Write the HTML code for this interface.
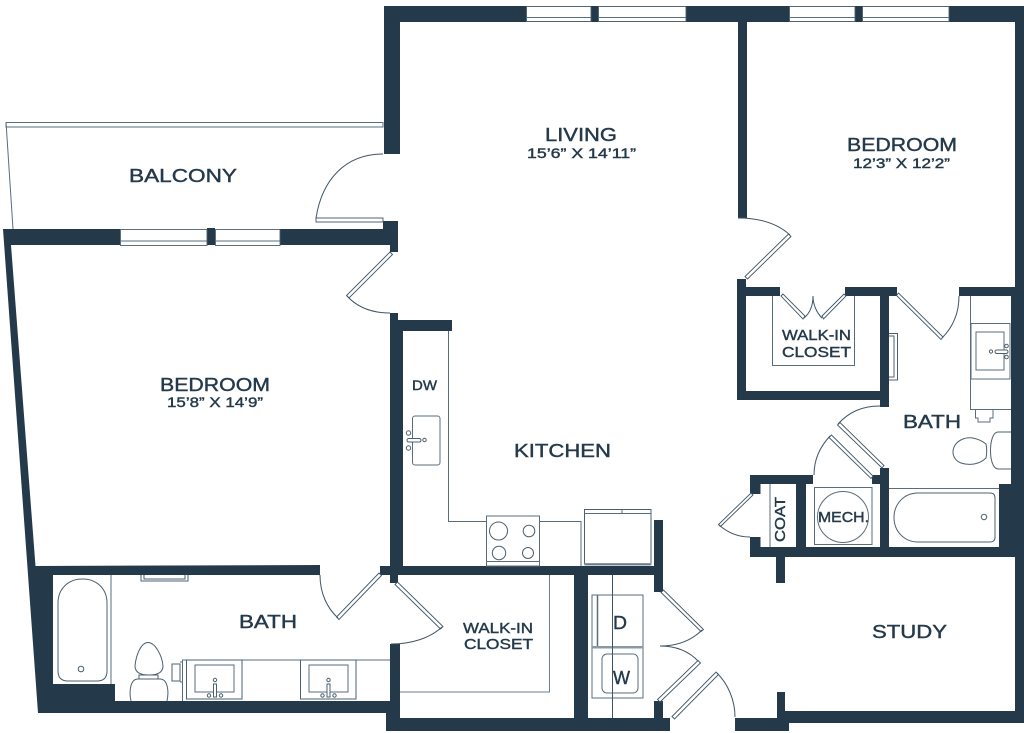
<!DOCTYPE html>
<html><head><meta charset="utf-8">
<style>
html,body{margin:0;padding:0;background:#fff;width:1024px;height:733px;overflow:hidden}
svg{display:block}
.w{fill:#243a4b;stroke:none}
.l{fill:none;stroke:#5a6d7c;stroke-width:1}
.d{fill:#fff;stroke:#3f5566;stroke-width:.9}
.a{fill:none;stroke:#3f5566;stroke-width:1}
.f{fill:#fff;stroke:#4c6070;stroke-width:1}
text{font-family:"Liberation Sans",sans-serif;fill:#243a4b;stroke:#243a4b;stroke-width:.4}
</style></head><body>
<svg width="1024" height="733" viewBox="0 0 1024 733" xmlns="http://www.w3.org/2000/svg">
<rect width="1024" height="733" fill="#fff"/>

<!-- balcony -->
<rect class="l" x="6" y="122.500" width="377" height="4.500"/>
<line class="l" x1="6" y1="122" x2="13" y2="229"/>

<!-- walls -->
<g class="w">
<rect x="384" y="6" width="640" height="16"/>
<rect x="384" y="6" width="16" height="148"/>
<rect x="1015" y="6" width="9" height="281"/>
<rect x="738" y="20" width="9" height="198"/>
<polygon points="3,229 120,229 120,245 11,245 35.500,566 320,565 320,575 53,575 53,684 115,684 115,701 390,701 390,644 400,644 400,718 670,718 670,731 386,731 386,713 38,713"/>
<rect x="207" y="228" width="8" height="17"/>
<rect x="280" y="229" width="110" height="16"/>
<rect x="383" y="221" width="15" height="24"/>
<rect x="390" y="245" width="8" height="7"/>
<rect x="390" y="313" width="8" height="18"/>
<rect x="398" y="320" width="54" height="11"/>
<rect x="390" y="320" width="13" height="255"/>
<rect x="380" y="566" width="283" height="9"/>
<rect x="390" y="566" width="8" height="17"/>
<rect x="574" y="575" width="14" height="143"/>
<rect x="654" y="520" width="9" height="72"/>
<rect x="654" y="701" width="9" height="17"/>
<rect x="735" y="718" width="54" height="13"/>
<rect x="777" y="692" width="8" height="28"/>
<rect x="785" y="711" width="239" height="12"/>
<rect x="1015" y="557" width="9" height="160"/>
<rect x="737" y="279" width="9" height="121"/>
<rect x="737" y="287" width="43" height="9"/>
<rect x="845" y="287" width="52" height="9"/>
<rect x="737" y="391" width="152" height="9"/>
<rect x="880" y="287" width="9" height="120"/>
<rect x="959" y="287" width="65" height="9"/>
<rect x="1011" y="287" width="13" height="200"/>
<rect x="999" y="484" width="25" height="73"/>
<rect x="750" y="547" width="274" height="10"/>
<rect x="750" y="475" width="63" height="9"/>
<rect x="750" y="475" width="10.500" height="19"/>
<rect x="750" y="537" width="10.500" height="20"/>
<rect x="796" y="475" width="10" height="82"/>
<rect x="776" y="557" width="9" height="26"/>
<rect x="880" y="468" width="9" height="89"/>
<rect x="872" y="475" width="17" height="9"/>
</g>

<!-- windows -->
<g class="d" style="stroke:#4c6070">
<rect x="526.500" y="6.500" width="64.500" height="15"/>
<rect x="598.500" y="6.500" width="87.500" height="15"/>
<rect x="789.500" y="6.500" width="65.500" height="15"/>
<rect x="862.500" y="6.500" width="86.500" height="15"/>
<rect x="120.500" y="229.500" width="86.500" height="16"/>
<rect x="215.500" y="229.500" width="64.500" height="16"/>
</g>
<g class="l">
<path d="M526 17.500H591M598 17.500H686M789 17.500H855M862 17.500H949M120 241H207M215 241H280"/>
</g>

<!-- doors -->
<rect class="d" x="316" y="218" width="67" height="4"/>
<path class="a" d="M316 218C322 180 345 154 383 154"/>
<polygon class="d" points="390,252 392.500,254.500 349,298 346.500,295.500"/>
<path class="a" d="M347 296C358 308 372 313 390 313"/>
<polygon class="d" points="745,276.500 747.500,279 791,236.500 788.500,234"/>
<path class="a" d="M790 235C778 224 760 218 738 218"/>
<path class="d" d="M781 296l2-2 22 22-2 3zM846 296l-2-2-22 22 1.500 3z"/>
<path class="a" d="M804 318C810 313 813 305 813 296C813 305 817 313 822 318"/>
<polygon class="d" points="898.500,293 896.500,295.500 941,339.500 943,337"/>
<path class="a" d="M942 338C953 327 959 313 959 296"/>
<polygon class="d" points="840,422.500 837.500,425 882,468 884,465.500"/>
<path class="a" d="M838 424C849 412 862 406 880 406"/>
<polygon class="d" points="831.500,435 829,437.500 871,478.500 873,476"/>
<path class="a" d="M830 436C820 447 814 459 814 475"/>
<polygon class="d" points="751,493 753,495 720.500,526.500 718.500,524.500"/>
<path class="a" d="M719 525C727 532 737 537 750 537"/>
<polygon class="d" points="379,573 381.500,575.500 339,619.500 336.500,617"/>
<path class="a" d="M338 618C327 608 320 593 320 575"/>
<polygon class="d" points="397.500,582 395,584.500 440.500,629 443,626.500"/>
<path class="a" d="M442 627C430 638 412 644 391 644"/>
<polygon class="d" points="663.500,590 661,592.500 701,631.500 703.500,629.500"/>
<path class="a" d="M702 630C691 641 677 646 660 646C675 646 689 651 699 662"/>
<polygon class="d" points="698,660.500 700.500,663 660,702 657.500,699.500"/>
<polygon class="d" points="716,672 718.500,674.500 674.500,719 672,716.500"/>
<path class="a" d="M717 673C728 684 735 700 735 717"/>

<!-- right closet -->
<path class="l" d="M772.500 296V365.500H854.500V296"/>
<path class="f" d="M889 333.500H897.500V380H889M889 336H894V377H889"/>

<!-- right bath -->
<line class="l" x1="970.500" y1="296" x2="970.500" y2="410"/>
<line class="l" x1="970.500" y1="409.500" x2="1011" y2="409.500"/>
<rect class="l" x="971" y="323.500" width="39" height="55.500"/>
<rect class="l" x="976" y="332" width="28" height="38"/>
<g class="f"><rect x="995" y="350" width="13" height="3.500" rx="1.700"/><circle cx="991" cy="351.500" r="1.600"/><circle cx="1006.500" cy="346" r="1.800"/><circle cx="1006.500" cy="357" r="1.800"/></g>
<path class="l" d="M975.500 410V418H978V422H990V418H993V410"/>
<path class="f" d="M986 444C980 439 970 436 963 439C950 444 950 459 961 463C970 466 980 464 986 458C987 453 987 449 986 444Z"/>
<path class="f" d="M1011 432H998C988 432 988 469 998 469H1011"/>

<!-- tub right -->
<line class="l" x1="889" y1="488.500" x2="999" y2="488.500"/>
<path class="f" d="M918 493H990Q995 493 995 498V537Q995 542 990 542H918C904 542 894 531 894 517.500C894 504 904 493 918 493Z"/>
<circle class="f" cx="984" cy="517" r="2.700"/>

<!-- mech/coat -->
<rect class="l" x="814.500" y="487.500" width="57.500" height="57"/>
<circle class="l" cx="843" cy="517" r="25.500"/>
<line class="l" x1="770" y1="484" x2="770" y2="547"/>

<!-- kitchen -->
<path class="l" d="M448.500 331V521.500H486M539 521.500H581V566"/>
<rect class="l" x="486.500" y="516" width="53" height="50"/>
<line class="l" x1="486.500" y1="561.500" x2="539.500" y2="561.500"/>
<g class="f"><circle cx="498.500" cy="531" r="9"/><circle cx="529" cy="531" r="5.800"/><circle cx="499" cy="553" r="6.700"/><circle cx="528" cy="553" r="5.500"/></g>
<rect class="f" x="584.500" y="509.500" width="66.500" height="54.500"/>
<path class="l" d="M584.500 513.500H651M622 509.500V513.500"/>
<rect class="l" x="585" y="563.500" width="66" height="1.500" style="stroke:#8b99a4"/>
<rect class="l" x="412.500" y="416" width="27.500" height="49" rx="2.500"/>
<g class="f"><circle cx="408.500" cy="433" r="2.200"/><circle cx="408.500" cy="448" r="2.200"/><circle cx="424.500" cy="440" r="1.700"/><rect x="407" y="438.500" width="14" height="3.500" rx="1.700"/></g>

<!-- left bath -->
<path class="l" d="M111 575V684"/>
<path class="f" d="M58 603C58 589 68 579 82.500 579C97 579 107 589 107 603V671Q107 681 97 681H68Q58 681 58 671Z"/>
<circle class="f" cx="81" cy="669" r="2.800"/>
<path class="f" d="M141 575V581H188V575M144 575V579H185V575"/>
<path class="f" d="M148 642.500C141 642.500 136 655 135 666C135 672 140 675 149 675C158 675 163 672 163 666C162 655 155 642.500 148 642.500Z"/>
<path class="f" d="M139 675H158V679H139Z"/>
<path class="f" d="M131 701C129 692 130 679 138 679H160C168 679 169 692 167 701"/>
<path class="l" d="M390 660H182.500V701"/>
<rect class="f" x="172" y="664" width="8" height="17"/>
<path class="l" d="M180 662H183M180 682H183"/>
<rect class="f" x="186.500" y="660" width="55.500" height="39"/>
<rect class="l" x="195" y="665" width="39" height="27"/>
<g class="f"><circle cx="215" cy="680" r="1.700"/><rect x="213.500" y="684" width="3" height="13"/><circle cx="209" cy="695.500" r="1.700"/><circle cx="221" cy="695.500" r="1.700"/></g>
<rect class="f" x="300.500" y="660" width="55.500" height="39"/>
<rect class="l" x="309" y="665" width="39" height="27"/>
<g class="f"><circle cx="328.500" cy="680" r="1.700"/><rect x="327" y="684" width="3" height="13"/><circle cx="322.500" cy="695.500" r="1.700"/><circle cx="334.500" cy="695.500" r="1.700"/></g>

<!-- lower closet & laundry -->
<path class="l" d="M549.500 575V692H400" style="stroke:#6d7e8b"/>
<rect class="l" x="592" y="595" width="51" height="52"/>
<line class="l" x1="597.500" y1="595" x2="597.500" y2="647" style="stroke-width:1.500"/>
<rect class="l" x="592" y="647.500" width="51" height="50.500"/>
<rect x="592" y="646" width="51" height="2.500" fill="#8b99a4"/>
<rect class="l" x="602" y="654" width="36" height="39" rx="5"/>
<line class="l" x1="612.500" y1="575" x2="612.500" y2="718" style="stroke:#3f5566"/>

<!-- labels -->
<text x="129" y="182" font-size="18" textLength="108" lengthAdjust="spacingAndGlyphs">BALCONY</text>
<text x="545" y="141" font-size="18" textLength="72" lengthAdjust="spacingAndGlyphs">LIVING</text>
<text x="527" y="158" font-size="13.500" textLength="109" lengthAdjust="spacingAndGlyphs">15’6” X 14’11”</text>
<text x="847" y="151" font-size="18" textLength="110" lengthAdjust="spacingAndGlyphs">BEDROOM</text>
<text x="853" y="168" font-size="13.500" textLength="97" lengthAdjust="spacingAndGlyphs">12’3” X 12’2”</text>
<text x="160" y="391" font-size="18" textLength="110" lengthAdjust="spacingAndGlyphs">BEDROOM</text>
<text x="167" y="407" font-size="13.500" textLength="96" lengthAdjust="spacingAndGlyphs">15’8” X 14’9”</text>
<text x="514" y="457" font-size="18" textLength="97" lengthAdjust="spacingAndGlyphs">KITCHEN</text>
<text x="412" y="390" font-size="13.500" textLength="25" lengthAdjust="spacingAndGlyphs">DW</text>
<text x="903" y="428" font-size="18" textLength="58" lengthAdjust="spacingAndGlyphs">BATH</text>
<text x="239" y="628" font-size="18" textLength="58" lengthAdjust="spacingAndGlyphs">BATH</text>
<text x="872" y="638" font-size="18" textLength="75" lengthAdjust="spacingAndGlyphs">STUDY</text>
<text x="782" y="340" font-size="14.500" textLength="69" lengthAdjust="spacingAndGlyphs">WALK-IN</text>
<text x="782" y="357" font-size="14.500" textLength="69" lengthAdjust="spacingAndGlyphs">CLOSET</text>
<text x="463" y="633" font-size="14.500" textLength="70" lengthAdjust="spacingAndGlyphs">WALK-IN</text>
<text x="464" y="649" font-size="14.500" textLength="69" lengthAdjust="spacingAndGlyphs">CLOSET</text>
<text x="613" y="629" font-size="18" textLength="14" lengthAdjust="spacingAndGlyphs">D</text>
<text x="613" y="684" font-size="18" textLength="17" lengthAdjust="spacingAndGlyphs">W</text>
<text x="818" y="522" font-size="14.500" textLength="51" lengthAdjust="spacingAndGlyphs">MECH.</text>
<text transform="translate(785 542) rotate(-90)" font-size="14.500" textLength="45" lengthAdjust="spacingAndGlyphs">COAT</text>
</svg>
</body></html>
